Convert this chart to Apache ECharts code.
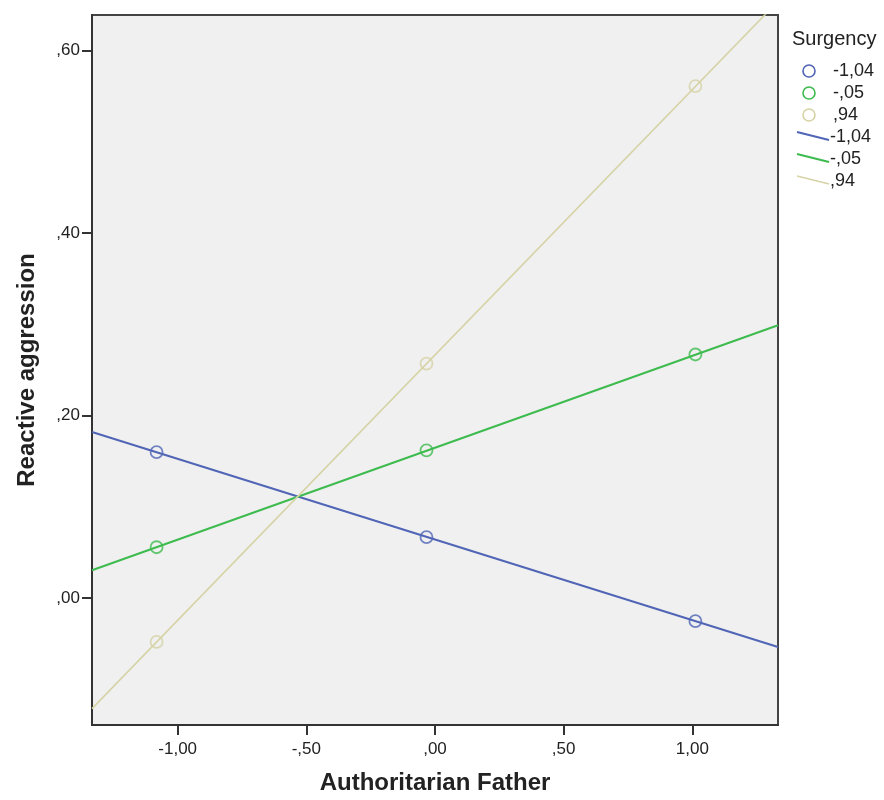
<!DOCTYPE html>
<html><head><meta charset="utf-8">
<script src="https://cdn.jsdelivr.net/npm/echarts@6/dist/echarts.min.js"></script>
<style>html,body{margin:0;padding:0;background:#fff}#c{width:884px;height:800px}</style>
</head><body><div id="c"></div>
<script>
// Data
var pointX = [-1.082, -0.033, 1.012];
var seriesNames = ['-1,04', '-,05', ',94'];
var pointsLow = [0.160, 0.0668, -0.0252];
var pointsMid = [0.0558, 0.162, 0.267];
var pointsHigh = [-0.048, 0.257, 0.561];
var lineX = [-1.333, 1.333];
var lineLow = [0.182, -0.0536];
var lineMid = [0.0305, 0.299];
var lineHigh = [-0.121, 0.654];
var xTicks = [-1, -0.5, 0, 0.5, 1];
var yTicks = [0, 0.2, 0.4, 0.6];

var colors = ['#5065b6', '#3dbb4f', '#d6d3a6'];
var lineWidths = [2, 2, 1.6];
var FONT = '"Liberation Sans", Arial, sans-serif';

function fmt(v) {
  var s = Math.abs(v).toFixed(2).replace('.', ',');
  if (s.charAt(0) === '0') s = s.substring(1);
  return (v < 0 ? '-' : '') + s;
}
function zip(xs, ys) { return xs.map(function (x, i) { return [x, ys[i]]; }); }

var pts = [pointsLow, pointsMid, pointsHigh];
var lns = [lineLow, lineMid, lineHigh];
var series = [];
for (var i = 0; i < 3; i++) {
  series.push({
    type: 'line', name: 'fit' + i, data: zip(lineX, lns[i]), clip: true,
    showSymbol: false, symbol: 'none', silent: true,
    lineStyle: { color: colors[i], width: lineWidths[i] }, z: 2
  });
}
for (var i = 0; i < 3; i++) {
  series.push({
    type: 'scatter', name: seriesNames[i], data: zip(pointX, pts[i]),
    symbol: 'circle', symbolSize: 12, silent: true,
    itemStyle: { color: 'rgba(0,0,0,0)', borderColor: colors[i], borderWidth: 1.8 }, z: 3
  });
}

var legendGraphics = [
  { type: 'text', left: 792, top: 29, style: { text: 'Surgency', font: '20px ' + FONT, fill: '#222' } }
];
var rowsY = [71, 93, 115, 137, 159, 181];
for (var i = 0; i < 3; i++) {
  legendGraphics.push({ type: 'circle', shape: { cx: 809, cy: rowsY[i], r: 6 }, style: { fill: 'none', stroke: colors[i], lineWidth: 1.6 } });
  legendGraphics.push({ type: 'text', left: 833, top: rowsY[i] - 9, style: { text: seriesNames[i], font: '18px ' + FONT, fill: '#222' } });
}
for (var i = 0; i < 3; i++) {
  var y = rowsY[i + 3];
  legendGraphics.push({ type: 'line', shape: { x1: 797, y1: y - 5, x2: 829, y2: y + 3 }, style: { stroke: colors[i], lineWidth: lineWidths[i] } });
  legendGraphics.push({ type: 'text', left: 830, top: y - 9, style: { text: seriesNames[i], font: '18px ' + FONT, fill: '#222' } });
}

var chart = echarts.init(document.getElementById('c'), null, { renderer: 'canvas' });
chart.setOption({
  animation: false,
  backgroundColor: '#ffffff',
  grid: { left: 92, right: 106, top: 15, bottom: 71, show: true, backgroundColor: '#f0f0f0', borderColor: '#444', borderWidth: 2 },
  xAxis: {
    type: 'value', min: -1.333, max: 1.333,
    name: 'Authoritarian Father', nameLocation: 'middle', nameGap: 46,
    nameTextStyle: { fontSize: 24, fontWeight: 'bold', color: '#222', fontFamily: FONT },
    axisLine: { show: true, onZero: false, lineStyle: { color: '#333', width: 2 } },
    axisTick: { show: true, inside: false, length: 10, lineStyle: { color: '#333', width: 2 }, customValues: xTicks },
    axisLabel: { customValues: xTicks, formatter: fmt, fontSize: 17, color: '#222', margin: 16, fontFamily: FONT },
    splitLine: { show: false }
  },
  yAxis: {
    type: 'value', min: -0.139, max: 0.639,
    name: 'Reactive aggression', nameLocation: 'middle', nameGap: 53,
    nameTextStyle: { fontSize: 24, fontWeight: 'bold', color: '#222', fontFamily: FONT },
    axisLine: { show: true, onZero: false, lineStyle: { color: '#333', width: 2 } },
    axisTick: { show: true, inside: false, length: 10, lineStyle: { color: '#333', width: 2 }, customValues: yTicks },
    axisLabel: { customValues: yTicks, formatter: fmt, fontSize: 17, color: '#222', margin: 12, fontFamily: FONT },
    splitLine: { show: false }
  },
  graphic: legendGraphics,
  series: series
});
</script>
</body></html>
